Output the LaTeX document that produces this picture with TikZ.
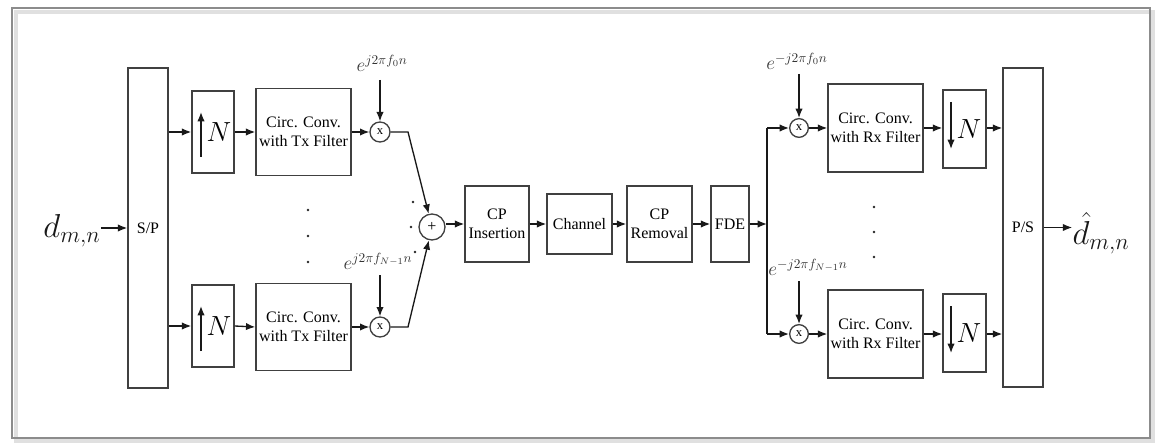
\documentclass[tikz,border=0pt]{standalone}
\usepackage{fontspec}
\setmainfont{Liberation Serif}
\usetikzlibrary{arrows.meta,calc}
\begin{document}
\begin{tikzpicture}[x=0.75pt,y=-0.75pt,
  blk/.style={draw=black!75, line width=1.1pt, inner sep=0pt, align=center, font=\fontsize{12}{14.5}\selectfont, text=black},
  mul/.style={draw=black!75, circle, line width=1pt, inner sep=0pt, font=\fontsize{9.5}{9.5}\selectfont, text=black},
  arr/.style={-{Latex[length=7pt,width=5.5pt]}, line width=1pt, draw=black!90},
  lnk/.style={line width=1pt, draw=black!90},
  dotn/.style={circle, fill=black!85, inner sep=0pt, minimum size=2.2pt},
  expo/.style={inner sep=0pt, font=\fontsize{14}{14}\selectfont, text=black!80},
  bigN/.style={inner sep=0pt, font=\fontsize{20}{20}\selectfont, text=black},
  sym/.style={inner sep=0pt, font=\fontsize{25}{25}\selectfont, text=black!90},
]
\useasboundingbox (0,0) rectangle (1162,445);
% frame
\draw[black!12, line width=3pt] (16,12) rectangle (1153,441);
\draw[black!45, line width=1pt] (12,8) rectangle (1150,438);

% input side
\node[blk, minimum width=30pt, minimum height=240pt] (sp) at (148,228) {S/P};
\node[sym] (din) at (72,231) {$d_{m,n}$};
\draw[arr] (din.east |- sp.west) -- (sp.west);

% Tx branches
\node[blk, minimum width=31.5pt, minimum height=61.5pt] (up1) at (213,132) {};
\node[blk, minimum width=31.5pt, minimum height=61.5pt] (up2) at (213,326) {};
\node[bigN] (n1) at (219,132) {$N$};
\node[bigN] (n2) at (219,326) {$N$};
\coordinate (ua1) at (201,157); \coordinate (ub1) at (201,112);
\coordinate (ua2) at (201,351); \coordinate (ub2) at (201,306);
\draw[arr] (ua1) -- (ub1);
\draw[arr] (ua2) -- (ub2);

\node[blk, minimum width=71.25pt, minimum height=65.25pt] (tx1) at (303.5,132) {Circ. Conv.\\with Tx Filter};
\node[blk, minimum width=71.25pt, minimum height=65.25pt] (tx2) at (303.5,327) {Circ. Conv.\\with Tx Filter};

\node[mul, minimum size=15pt] (m1) at (380,132) {x};
\node[mul, minimum size=15pt] (m2) at (380,327) {x};

\node[expo] (e1) at (382,63) {$e^{j2\pi f_0 n}$};
\node[expo] (e2) at (378,261) {$e^{j2\pi f_{N-1} n}$};
\coordinate (ea1) at (380,80);
\coordinate (ea2) at (380,275);
\draw[arr] (ea1) -- (m1.north);
\draw[arr] (ea2) -- (m2.north);

\draw[arr] (sp.east |- up1.west) -- (up1.west);
\draw[arr] (sp.east |- up2.west) -- (up2.west);
\draw[arr] (up1.east) -- (tx1.west);
\draw[arr] (up2.east) -- (tx2.west);
\draw[arr] (tx1.east) -- (m1.west);
\draw[arr] (tx2.east) -- (m2.west);

\node[dotn] (dt1) at (308,210) {};
\node[dotn] (dt2) at (308,236) {};
\node[dotn] (dt3) at (308,262) {};

% sum
\node[mul, minimum size=19.5pt, font=\fontsize{12}{12}\selectfont] (s) at (432,227) {+};
\coordinate (k1) at (408,132);
\coordinate (k2) at (408,327);
\draw[arr] (m1.east) -- (k1) -- (s);
\draw[arr] (m2.east) -- (k2) -- (s);
\node[dotn] (ds1) at (413,202) {};
\node[dotn] (ds2) at (411,227) {};
\node[dotn] (ds3) at (415,252) {};

% chain
\node[blk, minimum width=48pt, minimum height=57pt] (cpi) at (497,224) {CP\\Insertion};
\node[blk, minimum width=48.75pt, minimum height=45pt] (ch) at (579.5,224) {Channel};
\node[blk, minimum width=48.75pt, minimum height=57pt] (cpr) at (659.5,224) {CP\\Removal};
\node[blk, minimum width=28.5pt, minimum height=57pt] (fde) at (730,224) {FDE};
\draw[arr] (s.east |- cpi.west) -- (cpi.west);
\draw[arr] (cpi.east) -- (ch.west);
\draw[arr] (ch.east) -- (cpr.west);
\draw[arr] (cpr.east) -- (fde.west);

% split
\coordinate (sp1) at (767,128);
\coordinate (sp2) at (767,334);
\coordinate (spm) at (767,224);
\draw[arr] (fde.east) -- (spm);
\draw[lnk] (sp1) -- (sp2);

% Rx branches
\node[mul, minimum size=14pt] (r1) at (799,128) {x};
\node[mul, minimum size=14pt] (r2) at (799,334) {x};
\node[expo] (f1) at (797,61) {$e^{-j2\pi f_0 n}$};
\node[expo] (f2) at (808,267) {$e^{-j2\pi f_{N-1} n}$};
\coordinate (fa1) at (799,74);
\coordinate (fa2) at (799,281);
\draw[arr] (fa1) -- (r1.north);
\draw[arr] (fa2) -- (r2.north);
\draw[arr] (sp1) -- (r1.west);
\draw[arr] (sp2) -- (r2.west);

\node[blk, minimum width=71.25pt, minimum height=66pt] (rx1) at (875.5,128) {Circ. Conv.\\with Rx Filter};
\node[blk, minimum width=71.25pt, minimum height=66pt] (rx2) at (875.5,334) {Circ. Conv.\\with Rx Filter};
\draw[arr] (r1.east) -- (rx1.west);
\draw[arr] (r2.east) -- (rx2.west);

\node[blk, minimum width=32.25pt, minimum height=58.5pt] (dn1) at (964.5,129) {};
\node[blk, minimum width=32.25pt, minimum height=58.5pt] (dn2) at (964.5,333) {};
\node[bigN] (nn1) at (969,129) {$N$};
\node[bigN] (nn2) at (969,333) {$N$};
\coordinate (da1) at (951,102); \coordinate (db1) at (951,149);
\coordinate (da2) at (951,306); \coordinate (db2) at (951,353);
\draw[arr] (da1) -- (db1);
\draw[arr] (da2) -- (db2);
\draw[arr] (rx1.east) -- (rx1.east -| dn1.west);
\draw[arr] (rx2.east) -- (rx2.east -| dn2.west);

\node[dotn] (dr1) at (874,207) {};
\node[dotn] (dr2) at (874,232) {};
\node[dotn] (dr3) at (874,257) {};

\node[blk, minimum width=30pt, minimum height=239pt] (ps) at (1023,227.5) {P/S};
\draw[arr] (dn1.east |- rx1.east) -- (ps.west |- rx1.east);
\draw[arr] (dn2.east |- rx2.east) -- (ps.west |- rx2.east);

\node[sym] (dout) at (1101,233) {$\hat{d}_{m,n}$};
\draw[arr] (ps.east) -- (ps.east -| dout.west);
\end{tikzpicture}
\end{document}
